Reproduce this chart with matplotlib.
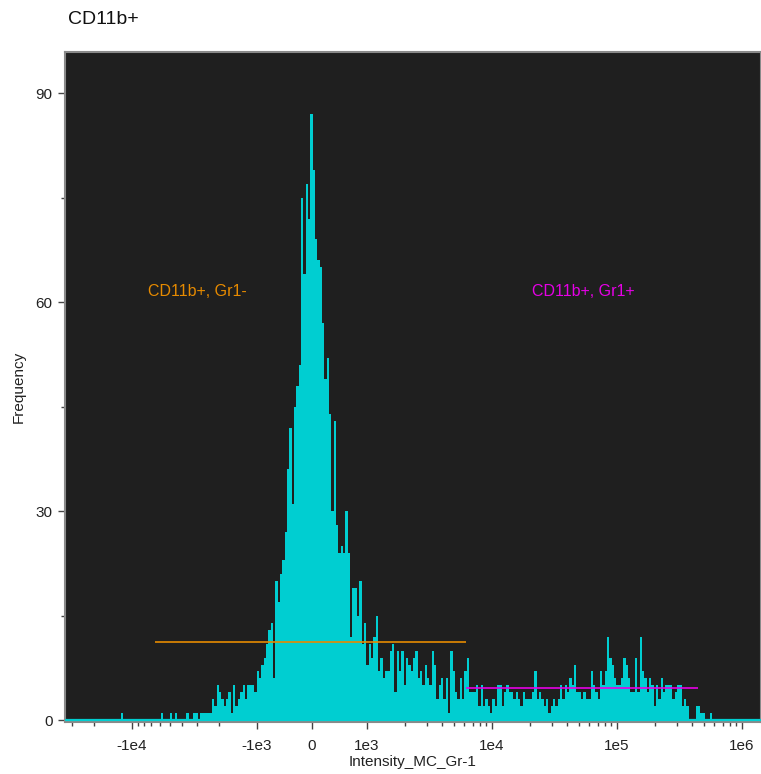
import numpy as np
import matplotlib
matplotlib.use('Agg')
import matplotlib.pyplot as plt
from matplotlib.ticker import FixedLocator, MultipleLocator, NullFormatter

plt.rcParams['font.family'] = ['Liberation Sans', 'DejaVu Sans']

# ---------------- data ----------------
title = "CD11b+"
x_label = "Intensity_MC_Gr-1"
y_label = "Frequency"
x_tick_values = [-1e4, -1e3, 0, 1e3, 1e4, 1e5, 1e6]
x_tick_labels = ["-1e4", "-1e3", "0", "1e3", "1e4", "1e5", "1e6"]
y_ticks = [0, 30, 60, 90]
x_range = [-34400, 1.42e6]
y_range = [-0.25, 95.9]

# histogram counts, bins evenly spaced on the display (biexponential) axis
counts_left = [0] * 24 + [1] + [0] * 16 + [1, 0, 0, 0, 1, 0, 1, 0, 0, 0, 0, 1, 0, 0,
               1, 1, 0, 1, 1, 1, 1, 1, 3, 2, 5, 4, 3, 2, 3, 4, 1, 5, 2, 3, 4, 5, 3,
               5, 5, 5, 4, 7, 6, 8, 9, 11, 13, 14, 6, 20, 17, 21, 23, 27, 36, 42,
               31, 45, 48, 51]
counts_peak = [75, 64, 77, 72, 87, 79, 69, 66, 65, 57, 49, 52, 44, 30, 43, 28, 24,
               25, 24, 30, 24, 12, 19, 19, 15, 20, 11, 14, 8, 11, 9, 12, 15, 7, 9,
               6, 7, 7, 10, 11, 4, 10, 7, 10, 5, 9, 8, 7, 9, 10, 6, 7, 5, 8, 6, 5,
               10, 8, 3, 5, 6, 3, 6, 1, 10, 7, 4, 3, 6, 3, 7, 9, 4, 4, 4, 5, 2, 5,
               2, 3, 2, 1, 3, 2]
counts_right = [5, 5, 2, 4, 5, 4, 4, 3, 4, 3, 2, 4, 3, 3, 3, 4, 7, 3, 4, 3, 2, 3,
                1, 2, 3, 2, 3, 5, 3, 5, 4, 6, 5, 8, 4, 4, 3, 4, 3, 3, 7, 5, 4, 3,
                7, 5, 7, 12, 9, 8, 6, 5, 5, 6, 9, 8, 6, 4, 4, 9, 4, 12, 7, 6, 4, 6,
                5, 2, 5, 3, 6, 4, 5, 5, 5, 3, 4, 5, 5, 2, 3, 2, 0, 0, 0, 2, 2, 1, 1,
                0, 0, 1] + [0] * 21

gate_names = ["CD11b+, Gr1-", "CD11b+, Gr1+"]
gate_x0 = [-6550, 6200]
gate_x1 = [6200, 445000]
gate_y = [11.3, 4.7]
gate_label_x = [-3000, 54000]
gate_label_y = [61.5, 61.5]
gate_colors = ["#E68A00", "#E600E6"]

# ---------------- figure ----------------
W, H = 761, 774
fig = plt.figure(figsize=(W / 100, H / 100), dpi=100)
ax = fig.add_axes([65 / W, 1 - 722 / H, 696 / W, 670 / H])
ax.set_facecolor('#1f1f1f')
ax.set_xscale('symlog', linthresh=1000, linscale=0.396, base=10)
ax.set_xlim(x_range)
ax.set_ylim(y_range)

counts = np.array(counts_left + counts_peak + counts_right, dtype=float)
tr = ax.xaxis.get_transform()
d0, d1 = tr.transform(np.array(x_range, dtype=float))
edges = tr.inverted().transform(np.linspace(d0, d1, len(counts) + 1))
ax.stairs(counts, edges, fill=True, color='#00CED1', baseline=0, lw=0)
ax.axhline(0, color='#00CED1', lw=1.6, zorder=3)

for name, x0, x1, gy, lx, ly, c in zip(gate_names, gate_x0, gate_x1, gate_y,
                                        gate_label_x, gate_label_y, gate_colors):
    ax.hlines(gy, x0, x1, color=c, lw=1.2, zorder=4)
    ax.text(lx, ly, name, color=c, fontsize=11.5, ha='center', va='center')

# minor ticks only in the logarithmic parts of the axis
minor_ticks = [s * m * 10.0 ** d for s, decades in ((1, range(3, 7)), (-1, range(3, 5)))
               for d in decades for m in range(2, 10)]
minor_ticks = [t for t in minor_ticks if x_range[0] <= t <= x_range[1]]

ax.set_xticks(x_tick_values, x_tick_labels)
ax.xaxis.set_minor_locator(FixedLocator(minor_ticks))
ax.xaxis.set_minor_formatter(NullFormatter())
ax.set_yticks(y_ticks)
ax.yaxis.set_minor_locator(MultipleLocator(15))

ax.tick_params(axis='both', which='major', length=5, width=1, color='#444444',
               labelsize=11, labelcolor='#222222')
ax.tick_params(axis='x', which='major', pad=7)
ax.tick_params(axis='y', which='major', pad=4)
ax.tick_params(axis='both', which='minor', length=3, width=1, color='#444444')

for s in ax.spines.values():
    s.set_color('#8a8a8a')
    s.set_linewidth(1.5)

ax.set_xlabel(x_label, fontsize=11, color='#222222', labelpad=2)
ax.set_ylabel(y_label, fontsize=11, color='#222222', labelpad=7)
fig.text(68 / W, 1 - 20 / H, title, fontsize=14, ha='left', va='center',
         color='#111111')

fig.savefig('out.png', dpi=100)
